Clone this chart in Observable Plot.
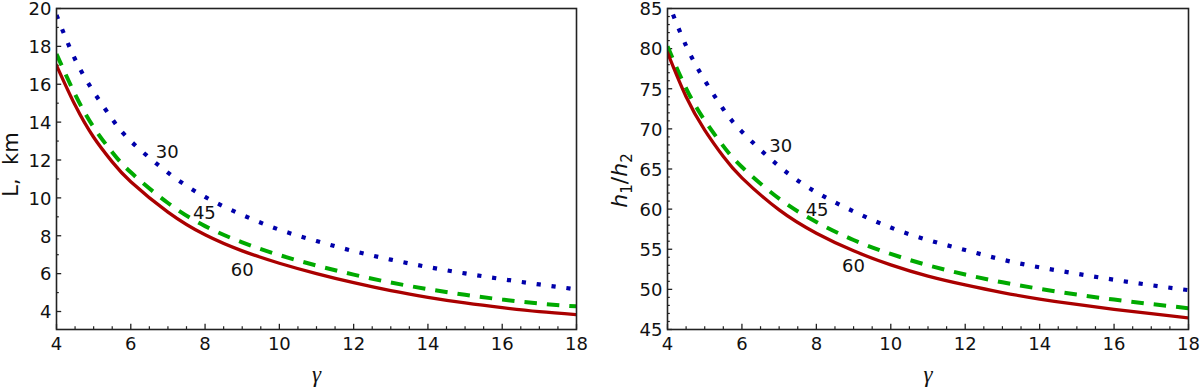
<!DOCTYPE html>
<html><head><meta charset="utf-8">
<script src="https://cdn.jsdelivr.net/npm/d3@7"></script>
<script src="https://cdn.jsdelivr.net/npm/@observablehq/plot@0.6"></script>
<style>
body{margin:0;background:#fff;}
#wrap{display:flex;width:1200px;height:387px;overflow:hidden;}
svg{display:block;}
</style></head><body><div id="wrap"></div>
<script>
// ---- data ----
const gamma = [4, 4.5, 5, 5.5, 6, 7, 8, 9, 10, 11, 12, 13, 14, 15, 16, 17, 18];
// left panel: L, km
const L30 = [19.65, 17.32, 15.6, 14.16, 13.0, 11.33, 10.05, 9.1, 8.32, 7.72, 7.19, 6.74, 6.35, 6.01, 5.71, 5.43, 5.17];
const L45 = [17.6, 15.47, 13.73, 12.41, 11.35, 9.73, 8.51, 7.65, 6.98, 6.43, 5.95, 5.53, 5.18, 4.88, 4.63, 4.42, 4.27];
const L60 = [17.0, 14.9, 13.2, 11.9, 10.85, 9.25, 8.05, 7.2, 6.55, 6.0, 5.52, 5.1, 4.75, 4.45, 4.2, 3.99, 3.83];
// right panel: h1/h2
const H30 = [86.0, 80.35, 76.05, 72.45, 69.65, 65.33, 62.1, 59.72, 57.7, 56.15, 54.9, 53.7, 52.75, 51.95, 51.2, 50.52, 49.9];
const H45 = [80.3, 75.05, 71.05, 67.85, 65.25, 61.3, 58.4, 56.15, 54.42, 53.0, 51.85, 50.88, 50.07, 49.35, 48.73, 48.17, 47.65];
const H60 = [79.5, 74.0, 69.85, 66.55, 63.9, 59.9, 57.0, 54.8, 53.05, 51.65, 50.55, 49.6, 48.8, 48.12, 47.52, 46.97, 46.45];
// curve labels (angle, in degrees) and where they sit (data coordinates)
const curveNames = ["30", "45", "60"];
const labelGammaL = [6.98, 7.98, 9.0];
const labelValueL = [12.41, 9.18, 6.2];
const labelGammaH = [7.04, 8.02, 9.0];
const labelValueH = [67.84, 59.83, 52.85];
// ticks
const xMajor = [4, 6, 8, 10, 12, 14, 16, 18];
const xMinor = d3.range(4, 18.01, 0.5).filter(v => v % 2 !== 0);
const yMajorL = [4, 6, 8, 10, 12, 14, 16, 18, 20];
const yMinorL = [5, 7, 9, 11, 13, 15, 17, 19];
const yMajorH = [45, 50, 55, 60, 65, 70, 75, 80, 85];
const yMinorH = d3.range(45, 85.01, 1).filter(v => v % 5 !== 0);

const colors = ["#0000aa", "#00aa00", "#aa0000"];
const styles = [
  {strokeWidth: 4.2, strokeDasharray: "4.2,10.8", strokeLinecap: "butt"},
  {strokeWidth: 4, strokeDasharray: "12.5,10", strokeLinecap: "butt"},
  {strokeWidth: 3.3}
];

const H = 387, MT = 8, MB = 58;
const frameH = H - MT - MB;

function panel({width, marginLeft, marginRight, yDomain, yMajor, yMinor, series, lgx, lgy, ylabelFn}) {
  const frameW = width - marginLeft - marginRight;
  const marks = [];
  // inward minor/major ticks
  marks.push(Plot.ruleX(xMinor, {x: d => d, insetTop: frameH - 2.8, stroke: "#222", strokeWidth: 1.2}));
  marks.push(Plot.ruleX(xMajor, {x: d => d, insetTop: frameH - 5.2, stroke: "#222", strokeWidth: 1.3}));
  marks.push(Plot.ruleY(yMinor, {y: d => d, insetRight: frameW - 2.8, stroke: "#222", strokeWidth: 1.2}));
  marks.push(Plot.ruleY(yMajor, {y: d => d, insetRight: frameW - 5.2, stroke: "#222", strokeWidth: 1.3}));
  series.forEach((vals, i) => {
    const rows = gamma.map((g, j) => ({g, v: vals[j]}));
    marks.push(Plot.line(rows, {x: "g", y: "v", stroke: colors[i], curve: "natural", clip: true, ...styles[i]}));
  });
  const lab = curveNames.map((t, i) => ({t, x: lgx[i], y: lgy[i]}));
  marks.push(Plot.text(lab, {x: "x", y: "y", text: "t", fontSize: 18, fill: "#111"}));
  marks.push(Plot.frame({stroke: "#222", strokeWidth: 1.6}));
  marks.push(Plot.axisX({ticks: xMajor, tickSize: 0, tickPadding: 8, tickFormat: d => String(d), label: null, fontSize: 18}));
  marks.push(Plot.axisY({ticks: yMajor, tickSize: 0, tickPadding: 5, tickFormat: d => String(d), label: null, fontSize: 18, dy: 1}));
  marks.push(Plot.text(["γ"], {text: d => d, frameAnchor: "bottom", dy: 45, fontSize: 23, fontStyle: "italic", fontFamily: "Liberation Serif", lineAnchor: "middle"}));
  const svg = Plot.plot({
    width, height: H,
    marginLeft, marginRight, marginTop: MT, marginBottom: MB,
    x: {domain: [4, 18]},
    y: {domain: yDomain},
    style: {fontSize: "18px", fontFamily: "'DejaVu Sans', sans-serif", color: "#111", background: "#fff", overflow: "visible"},
    marks
  });
  ylabelFn(d3.select(svg), marginLeft);
  return svg;
}

const left = panel({
  width: 590, marginLeft: 56, marginRight: 14,
  yDomain: [3.05, 20], yMajor: yMajorL, yMinor: yMinorL,
  series: [L30, L45, L60], lgx: labelGammaL, lgy: labelValueL,
  ylabelFn: (s, ml) => {
    s.append("text")
      .attr("transform", `translate(${ml - 38},${MT + frameH / 2 - 4}) rotate(-90)`)
      .attr("text-anchor", "middle")
      .attr("font-size", 21)
      .attr("font-family", "'DejaVu Sans', sans-serif")
      .attr("fill", "#111")
      .text("L,\u00a0\u00a0km");
  }
});

const right = panel({
  width: 610, marginLeft: 77, marginRight: 12,
  yDomain: [45, 85], yMajor: yMajorH, yMinor: yMinorH,
  series: [H30, H45, H60], lgx: labelGammaH, lgy: labelValueH,
  ylabelFn: (s, ml) => {
    const t = s.append("text")
      .attr("transform", `translate(${ml - 40},${MT + frameH / 2 + 12}) rotate(-90)`)
      .attr("text-anchor", "middle")
      .attr("font-size", 22)
      .attr("font-family", "'DejaVu Sans', sans-serif")
      .attr("fill", "#111");
    t.append("tspan").attr("font-style", "italic").text("h");
    t.append("tspan").attr("font-size", 15).attr("dy", 5).text("1");
    t.append("tspan").attr("dy", -5).text("/");
    t.append("tspan").attr("font-style", "italic").text("h");
    t.append("tspan").attr("font-size", 15).attr("dy", 5).text("2");
  }
});

document.getElementById("wrap").append(left, right);
</script>
</body></html>
